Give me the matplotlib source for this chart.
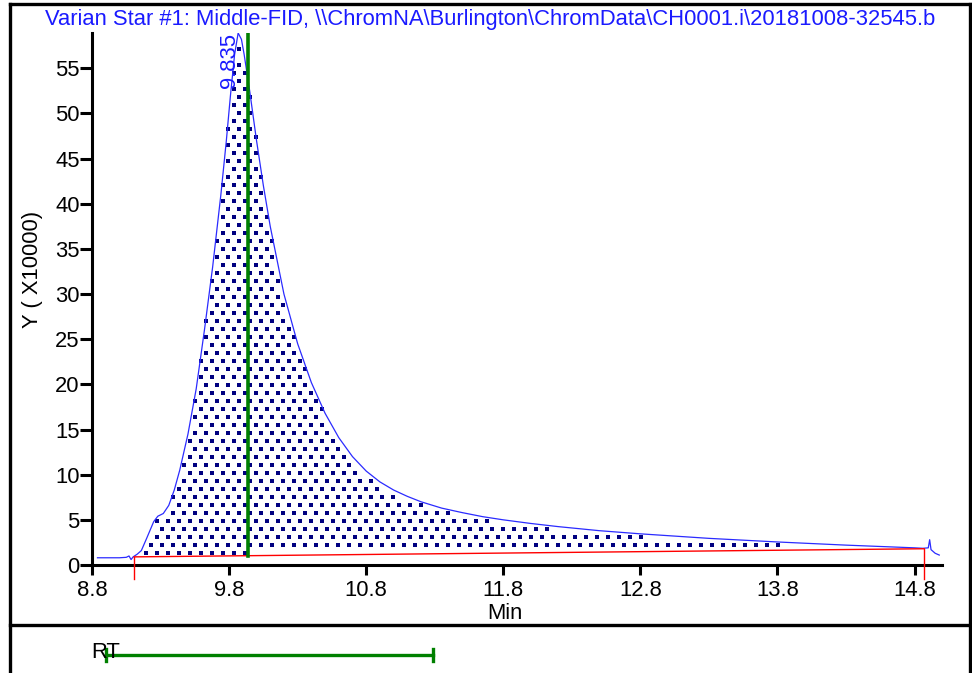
import numpy as np
import matplotlib
matplotlib.use("Agg")
import matplotlib.pyplot as plt
from matplotlib.lines import Line2D

plt.rcParams['font.family'] = ['Liberation Sans', 'DejaVu Sans']

# ---- data -------------------------------------------------------------
title = r"Varian Star #1: Middle-FID, \\ChromNA\Burlington\ChromData\CH0001.i\20181008-32545.b"
time_min = [8.84, 9.00, 9.05, 9.07, 9.085, 9.10, 9.13, 9.16, 9.20, 9.25, 9.28,
            9.32, 9.36, 9.40, 9.44, 9.50, 9.56, 9.62, 9.68, 9.74, 9.78, 9.81,
            9.84, 9.866, 9.89, 9.91, 9.95, 10.00, 10.05, 10.10, 10.20, 10.30,
            10.40, 10.50, 10.60, 10.70, 10.80, 10.90, 11.00, 11.10, 11.20,
            11.35, 11.50, 11.65, 11.80, 12.00, 12.20, 12.50, 12.80, 13.30,
            13.80, 14.30, 14.80, 14.86, 14.90, 14.91, 14.92, 14.95, 14.98]
signal = [0.8, 0.8, 0.85, 1.0, 0.6, 0.9, 1.2, 1.6, 3.0, 4.8, 5.4,
          5.7, 6.6, 8.3, 10.5, 14.5, 19.5, 26.0, 33.0, 41.0, 47.0, 52.0,
          56.5, 58.9, 58.2, 56.5, 52.5, 47.0, 42.0, 37.5, 30.0, 24.5,
          20.2, 16.8, 14.1, 12.0, 10.4, 9.2, 8.3, 7.6, 7.0,
          6.3, 5.8, 5.35, 5.0, 4.6, 4.25, 3.8, 3.45, 2.95,
          2.55, 2.2, 1.9, 1.85, 1.9, 2.8, 1.7, 1.3, 1.1]
baseline_t = [9.107, 14.87]
baseline_y = [0.9, 1.8]
peak_rt = 9.835
expected_rt = 9.94
rt_window = [8.90, 11.29]
x_ticks = [8.8, 9.8, 10.8, 11.8, 12.8, 13.8, 14.8]
y_ticks = list(range(0, 60, 5))

FS = 15.8
W, H = 972, 673
fig = plt.figure(figsize=(W / 100, H / 100), dpi=100)

# main chromatogram axes
ax = fig.add_axes([92 / W, 1 - 565 / H, 850 / W, 532 / H])
ax.set_xlim(8.8, 15.0)
ax.set_ylim(0, 58.9)
for s in ('top', 'right'):
    ax.spines[s].set_visible(False)
for s in ('left', 'bottom'):
    ax.spines[s].set_linewidth(2.2)
ax.set_xticks(x_ticks)
ax.set_xticklabels([f"{v:.1f}" for v in x_ticks])
ax.set_yticks(y_ticks)
ax.tick_params(axis='x', length=7, width=2.2, labelsize=FS, pad=4)
ax.tick_params(axis='y', length=9, width=2.2, labelsize=FS, pad=0)
ax.set_xlabel('Min', fontsize=FS, va='top')
ax.xaxis.set_label_coords(0.486, -0.071)
ax.set_ylabel('Y ( X10000)', fontsize=FS)
ax.yaxis.set_label_coords(-0.058, 0.555)

t = np.array(time_min)
y = np.array(signal)

# dotted fill between the trace and the integration baseline
fig.canvas.draw()
x0, x1 = baseline_t
px0 = ax.transData.transform((x0, 0))[0]
px1 = ax.transData.transform((x1, 0))[0]
pyb = ax.transData.transform((0, 0))[1]
pyt = ax.transData.transform((0, 58.9))[1]
inv = ax.transData.inverted()
dots = []
row = 0
py = pyb + 4
while py < pyt:
    off = 5.5 if row % 2 else 0
    px = px0 + 6 + off
    while px < px1:
        dx, dy = inv.transform((px, py))
        top = np.interp(dx, t, y)
        base = np.interp(dx, baseline_t, baseline_y)
        if base + 0.3 < dy < top - 0.3:
            dots.append((dx, dy))
        px += 11
    py += 8
    row += 1
dots = np.array(dots)
ax.scatter(dots[:, 0], dots[:, 1], marker='s', s=7.5, color='#000080',
           linewidths=0, zorder=2)

ax.plot(t, y, color='#2b2bff', lw=0.9, zorder=3)

# baseline with drop lines at each end
ax.plot(baseline_t, baseline_y, color='red', lw=1.0, zorder=3)
for bt, by in zip(baseline_t, baseline_y):
    ax.plot([bt, bt], [by, -1.5], color='red', lw=1.0, zorder=3, clip_on=False)

# retention time marker
ax.plot([expected_rt, expected_rt], [1.0, 58.9], color='#008000', lw=2.6, zorder=4)
ax.text(9.80, 58.9, f"{peak_rt:.3f}", rotation=90, ha='center', va='top',
        color='#1a1aff', fontsize=FS, zorder=5)

fig.text(490 / W, 1 - 19 / H, title, ha='center', va='center',
         color='#1a1aff', fontsize=FS)

# lower RT strip sharing the time scale
ax2 = fig.add_axes([92 / W, 0, 850 / W, 48 / H])
ax2.set_xlim(8.8, 15.0)
ax2.set_ylim(0, 1)
ax2.axis('off')
ax2.plot(rt_window, [0.375, 0.375], color='#008000', lw=2.4)
for rx in rt_window:
    ax2.plot([rx, rx], [0.25, 0.5], color='#008000', lw=2.4)
fig.text(91 / W, 1 - 652 / H, 'RT', ha='left', va='center', fontsize=FS)

# outer frame
lw = 2.4
fig.add_artist(Line2D([10 / W, 10 / W], [0, 1 - 4 / H], color='black', lw=lw))
fig.add_artist(Line2D([970 / W, 970 / W], [0, 1 - 4 / H], color='black', lw=lw))
fig.add_artist(Line2D([10 / W, 970 / W], [1 - 4 / H, 1 - 4 / H], color='black', lw=lw))
fig.add_artist(Line2D([10 / W, 970 / W], [1 - 625 / H, 1 - 625 / H], color='black', lw=lw))

fig.savefig('out.png', dpi=100)
